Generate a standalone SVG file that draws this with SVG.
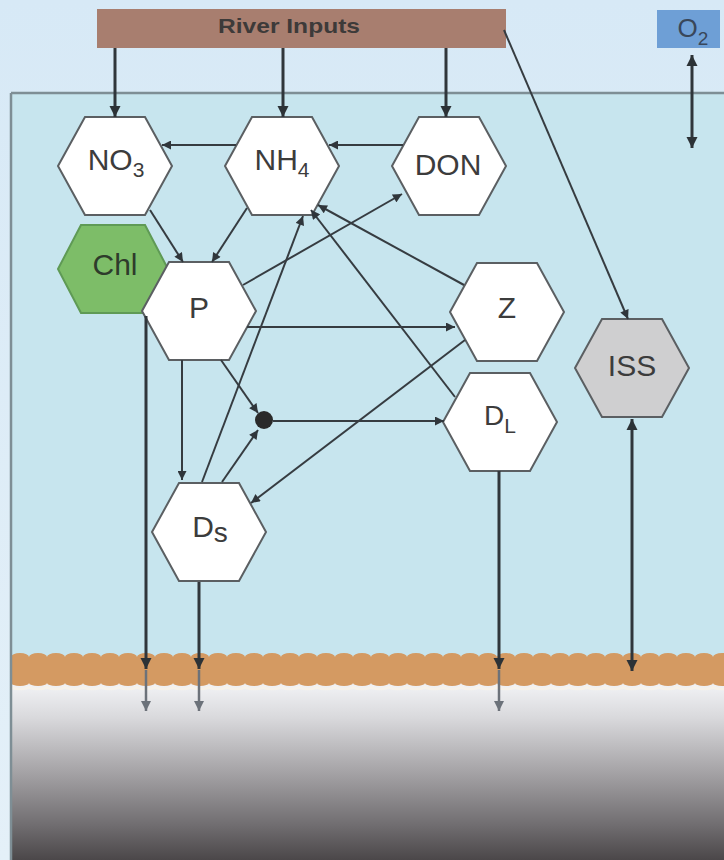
<svg xmlns="http://www.w3.org/2000/svg" width="724" height="860" viewBox="0 0 724 860">
<defs>
<linearGradient id="sky" x1="0" y1="0" x2="0" y2="1">
<stop offset="0" stop-color="#d7e9f6"/>
<stop offset="1" stop-color="#e4f0f8"/>
</linearGradient>
<linearGradient id="sed" x1="0" y1="0" x2="0" y2="1">
<stop offset="0" stop-color="#f3f4f7"/>
<stop offset="0.2" stop-color="#d9d9dc"/>
<stop offset="0.5" stop-color="#a6a4a7"/>
<stop offset="0.8" stop-color="#716e71"/>
<stop offset="1" stop-color="#4b4749"/>
</linearGradient>
<marker id="ah" viewBox="0 0 10 10" refX="10" refY="5" markerUnits="userSpaceOnUse" markerWidth="10" markerHeight="9" orient="auto-start-reverse">
<path d="M0,0 L10,5 L0,10 z" fill="#30363b"/>
</marker>
<marker id="ahb" viewBox="0 0 10 10" refX="10" refY="5" markerUnits="userSpaceOnUse" markerWidth="11" markerHeight="12" orient="auto-start-reverse">
<path d="M0,0 L10,5 L0,10 z" fill="#2c3236"/>
</marker>
<marker id="ahg" viewBox="0 0 10 10" refX="10" refY="5" markerUnits="userSpaceOnUse" markerWidth="10" markerHeight="12" orient="auto">
<path d="M0,0 L10,5 L0,10 z" fill="#6c727a"/>
</marker>
</defs>
<style>
.hex{fill:#ffffff;stroke:#5b5f62;stroke-width:2}
.lbl{font-family:"Liberation Sans",Arial,sans-serif;font-size:30px;fill:#3c3c3c;text-anchor:middle}
.c{fill:none;stroke:#363c41;stroke-width:2;marker-end:url(#ah)}
.cb{fill:none;stroke:#30363b;stroke-width:3;marker-end:url(#ahb)}
.cg{fill:none;stroke:#6c727a;stroke-width:2.5;marker-end:url(#ahg)}
</style>

<!-- background -->
<rect x="0" y="0" width="724" height="860" fill="url(#sky)"/>
<rect x="11" y="93" width="713" height="767" fill="#c7e5ee"/>
<rect x="11" y="682" width="713" height="178" fill="url(#sed)"/>
<path d="M11,686 a9 3 0 0 0 18 0 a9 3 0 0 0 18 0 a9 3 0 0 0 18 0 a9 3 0 0 0 18 0 a9 3 0 0 0 18 0 a9 3 0 0 0 18 0 a9 3 0 0 0 18 0 a9 3 0 0 0 18 0 a9 3 0 0 0 18 0 a9 3 0 0 0 18 0 a9 3 0 0 0 18 0 a9 3 0 0 0 18 0 a9 3 0 0 0 18 0 a9 3 0 0 0 18 0 a9 3 0 0 0 18 0 a9 3 0 0 0 18 0 a9 3 0 0 0 18 0 a9 3 0 0 0 18 0 a9 3 0 0 0 18 0 a9 3 0 0 0 18 0 a9 3 0 0 0 18 0 a9 3 0 0 0 18 0 a9 3 0 0 0 18 0 a9 3 0 0 0 18 0 a9 3 0 0 0 18 0 a9 3 0 0 0 18 0 a9 3 0 0 0 18 0 a9 3 0 0 0 18 0 a9 3 0 0 0 18 0 a9 3 0 0 0 18 0 a9 3 0 0 0 18 0 a9 3 0 0 0 18 0 a9 3 0 0 0 18 0 a9 3 0 0 0 18 0 a9 3 0 0 0 18 0 a9 3 0 0 0 18 0 a9 3 0 0 0 18 0 a9 3 0 0 0 18 0 a9 3 0 0 0 18 0 a9 3 0 0 0 18 0" fill="none" stroke="#f7f2ea" stroke-width="2.5"/>
<path d="M11,657 a9 4 0 0 1 18 0 a9 4 0 0 1 18 0 a9 4 0 0 1 18 0 a9 4 0 0 1 18 0 a9 4 0 0 1 18 0 a9 4 0 0 1 18 0 a9 4 0 0 1 18 0 a9 4 0 0 1 18 0 a9 4 0 0 1 18 0 a9 4 0 0 1 18 0 a9 4 0 0 1 18 0 a9 4 0 0 1 18 0 a9 4 0 0 1 18 0 a9 4 0 0 1 18 0 a9 4 0 0 1 18 0 a9 4 0 0 1 18 0 a9 4 0 0 1 18 0 a9 4 0 0 1 18 0 a9 4 0 0 1 18 0 a9 4 0 0 1 18 0 a9 4 0 0 1 18 0 a9 4 0 0 1 18 0 a9 4 0 0 1 18 0 a9 4 0 0 1 18 0 a9 4 0 0 1 18 0 a9 4 0 0 1 18 0 a9 4 0 0 1 18 0 a9 4 0 0 1 18 0 a9 4 0 0 1 18 0 a9 4 0 0 1 18 0 a9 4 0 0 1 18 0 a9 4 0 0 1 18 0 a9 4 0 0 1 18 0 a9 4 0 0 1 18 0 a9 4 0 0 1 18 0 a9 4 0 0 1 18 0 a9 4 0 0 1 18 0 a9 4 0 0 1 18 0 a9 4 0 0 1 18 0 a9 4 0 0 1 18 0 L731,683 a9 3 0 0 1 -18 0 a9 3 0 0 1 -18 0 a9 3 0 0 1 -18 0 a9 3 0 0 1 -18 0 a9 3 0 0 1 -18 0 a9 3 0 0 1 -18 0 a9 3 0 0 1 -18 0 a9 3 0 0 1 -18 0 a9 3 0 0 1 -18 0 a9 3 0 0 1 -18 0 a9 3 0 0 1 -18 0 a9 3 0 0 1 -18 0 a9 3 0 0 1 -18 0 a9 3 0 0 1 -18 0 a9 3 0 0 1 -18 0 a9 3 0 0 1 -18 0 a9 3 0 0 1 -18 0 a9 3 0 0 1 -18 0 a9 3 0 0 1 -18 0 a9 3 0 0 1 -18 0 a9 3 0 0 1 -18 0 a9 3 0 0 1 -18 0 a9 3 0 0 1 -18 0 a9 3 0 0 1 -18 0 a9 3 0 0 1 -18 0 a9 3 0 0 1 -18 0 a9 3 0 0 1 -18 0 a9 3 0 0 1 -18 0 a9 3 0 0 1 -18 0 a9 3 0 0 1 -18 0 a9 3 0 0 1 -18 0 a9 3 0 0 1 -18 0 a9 3 0 0 1 -18 0 a9 3 0 0 1 -18 0 a9 3 0 0 1 -18 0 a9 3 0 0 1 -18 0 a9 3 0 0 1 -18 0 a9 3 0 0 1 -18 0 a9 3 0 0 1 -18 0 a9 3 0 0 1 -18 0 Z" fill="#d49a62"/>
<path d="M11,93 L724,93 M11,93 L11,860" fill="none" stroke="#7e8e95" stroke-width="2.5"/>

<!-- top boxes -->
<g id="river">
<rect x="97" y="9" width="409" height="39" fill="#a87e6f"/>
<text x="289" y="33" font-family="Liberation Sans,Arial,sans-serif" font-size="21" font-weight="bold" fill="#3d3a39" text-anchor="middle" textLength="142" lengthAdjust="spacingAndGlyphs">River Inputs</text>
</g>
<g id="o2">
<rect x="657" y="10" width="63" height="38" fill="#6e9fd6"/>
<text x="693" y="37" font-family="Liberation Sans,Arial,sans-serif" font-size="26" fill="#39475a" text-anchor="middle">O<tspan font-size="19" dy="8">2</tspan></text>
</g>

<!-- nodes -->
<g id="NO3" transform="translate(115,166)">
<polygon class="hex" points="-57,0 -30,-49 30,-49 57,0 30,49 -30,49"/>
<text class="lbl" x="1" y="4">NO<tspan font-size="21" dy="7">3</tspan></text>
</g>
<g id="NH4" transform="translate(282,166)">
<polygon class="hex" points="-57,0 -30,-49 30,-49 57,0 30,49 -30,49"/>
<text class="lbl" x="0" y="4">NH<tspan font-size="21" dy="7">4</tspan></text>
</g>
<g id="DON" transform="translate(449,166)">
<polygon class="hex" points="-57,0 -30,-49 30,-49 57,0 30,49 -30,49"/>
<text class="lbl" x="-1" y="9">DON</text>
</g>
<g id="Chl" transform="translate(113,269)">
<polygon points="-55,0 -32,-44 32,-44 55,0 32,44 -32,44" fill="#7dbd68" stroke="#5f9a55" stroke-width="2"/>
<text class="lbl" x="2" y="6" style="fill:#2e3b2b">Chl</text>
</g>
<g id="P" transform="translate(199,311)">
<polygon class="hex" points="-57,0 -30,-49 30,-49 57,0 30,49 -30,49"/>
<text class="lbl" x="0" y="7">P</text>
</g>
<g id="Z" transform="translate(507,312)">
<polygon class="hex" points="-57,0 -30,-49 30,-49 57,0 30,49 -30,49"/>
<text class="lbl" x="0" y="6">Z</text>
</g>
<g id="ISS" transform="translate(632,368)">
<polygon class="hex" points="-57,0 -30,-49 30,-49 57,0 30,49 -30,49" style="fill:#cfcfd0"/>
<text class="lbl" x="0" y="8">ISS</text>
</g>
<g id="DL" transform="translate(500,422)">
<polygon class="hex" points="-57,0 -30,-49 30,-49 57,0 30,49 -30,49"/>
<text class="lbl" x="0" y="3" style="font-size:28px">D<tspan font-size="21" dy="8">L</tspan></text>
</g>
<g id="DS" transform="translate(209,532)">
<polygon class="hex" points="-57,0 -30,-49 30,-49 57,0 30,49 -30,49"/>
<text class="lbl" x="1" y="5">D<tspan font-size="28" dy="5">s</tspan></text>
</g>

<!-- connectors -->
<g id="connectors">
<path class="cb" d="M115,48 L115,117"/>
<path class="cb" d="M283,48 L283,117"/>
<path class="cb" d="M446,48 L446,117"/>
<path class="c" d="M504,30 L628,319"/>
<path class="c" d="M236,145 L162,145"/>
<path class="c" d="M403,145 L329,145"/>
<path class="c" d="M150,210 L183,262"/>
<path class="c" d="M247,208 L212,262"/>
<path class="c" d="M243,285 L402,194"/>
<path class="c" d="M464,285 L318,205"/>
<path class="c" d="M455,397 L311,210"/>
<path class="c" d="M202,482 L303,216"/>
<path class="c" d="M247,327 L455,327"/>
<path class="c" d="M221,360 L258,413"/>
<circle cx="264" cy="420" r="9" fill="#2a2a2a"/>
<path class="c" d="M273,421 L444,421"/>
<path class="c" d="M222,482 L258,430"/>
<path class="c" d="M465,340 L251,503"/>
<path class="c" d="M182,360 L182,480"/>
<path class="cb" d="M146,316 L146,669"/>
<path class="cg" d="M146,670 L146,711"/>
<path class="cb" d="M199,582 L199,669"/>
<path class="cg" d="M199,670 L199,711"/>
<path class="cb" d="M499,471 L499,669"/>
<path class="cg" d="M499,670 L499,711"/>
<path class="cb" d="M632,419 L632,671" style="marker-start:url(#ahb)"/>
<path class="cb" d="M692,55 L692,148" style="marker-start:url(#ahb)"/>
</g>
</svg>
